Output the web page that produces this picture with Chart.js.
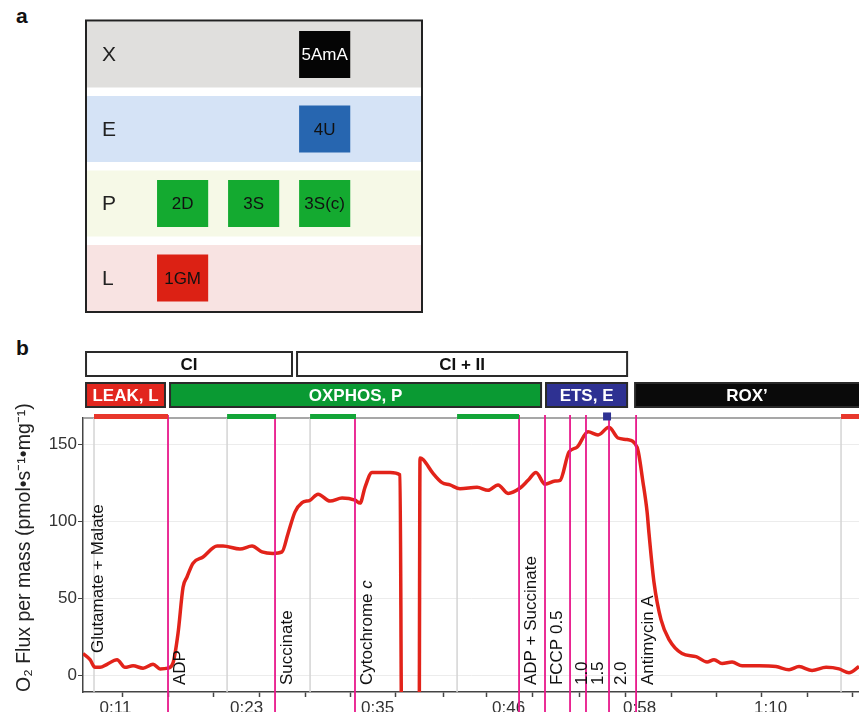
<!DOCTYPE html>
<html>
<head>
<meta charset="utf-8">
<script src="https://cdn.jsdelivr.net/npm/chart.js@4.4.1/dist/chart.umd.min.js"></script>
<style>
  html, body { margin: 0; padding: 0; background: #fff; overflow: hidden; width: 859px; height: 712px; position: relative; font-family: "Liberation Sans", Arial, sans-serif; }
  .panel { position: absolute; }
  .tag { position: absolute; font-weight: bold; font-size: 21px; color: #111; line-height: 24px; }
</style>
</head>
<body>
<div class="tag" style="left:16px;top:4px">a</div>
<div class="tag" style="left:16px;top:336px">b</div>
<div class="panel" style="left:0;top:0;width:430px;height:330px"><canvas id="protocol"></canvas></div>
<div class="panel" style="left:0;top:340px;width:859px;height:377px"><canvas id="trace"></canvas></div>

<script>
// ---- panel a : protocol grid ----
const rows = ["X", "E", "P", "L"];
const rowColors = ["#e0dfdd", "#d5e3f6", "#f6f9e7", "#f8e3e2"];
const stepLabels = ["1GM", "2D", "3S", "3S(c)", "4U", "5AmA"];
const stepRows = ["L", "P", "P", "P", "E", "X"];
const stepCols = [1, 1, 2, 3, 3, 3];
const stepColors = ["#dc2114", "#14aa30", "#14aa30", "#14aa30", "#2766b0", "#050505"];
const stepTextColors = ["#111", "#111", "#111", "#111", "#111", "#fff"];

// ---- panel b : O2 flux trace (time in minutes) ----
const traceTime = [8.77, 9.40, 9.84, 10.29, 10.91, 11.80, 12.51, 13.23, 14.12, 15.01, 15.63, 16.34, 16.79, 17.23, 17.68,
  18.03, 18.57, 19.46, 20.71, 21.24, 22.75, 23.82, 24.71, 25.69, 26.49, 27.03, 27.65, 28.28, 28.99, 29.70,
  30.77, 31.84, 32.99, 33.44, 33.88, 34.51, 36.11, 37.00, 37.15, 38.70, 38.78, 39.05, 39.94, 40.74, 41.45,
  42.34, 43.86, 44.84, 45.73, 46.62, 47.69, 48.40, 49.11, 49.91, 50.80, 51.25, 52.05, 52.76, 53.74, 54.63,
  55.61, 56.41, 57.21, 58.11, 58.64, 59.00, 59.17, 59.62, 60.24, 60.96, 62.11, 63.36, 64.34, 64.96, 65.68,
  66.57, 67.46, 68.97, 70.48, 71.64, 72.53, 73.69, 74.94, 76.09, 76.98, 77.87];
const traceFlux = [14, 10, 5, 5, 7, 10, 5, 6, 4.5, 7, 4, 4.5, 8, 27, 57,
  63.7, 72.7, 76.7, 83.8, 83.8, 81.9, 83.8, 80, 79, 80, 92, 106, 112, 113.6, 117.5,
  113, 115, 113.6, 111.7, 122, 131.6, 131.6, 130, -40, -40, 141, 140, 131, 125, 123.5,
  121, 122, 120, 123.5, 118, 121.5, 126.5, 131.6, 124, 126, 126.5, 145, 148, 158, 156,
  161, 154, 153, 148, 125, 106, 92, 60, 36, 23, 14, 12, 8.5, 10, 7.5,
  8.5, 6, 6, 5.5, 3.5, 5.5, 3, 5, 4, 1.5, 5.5];

const yTicks = [0, 50, 100, 150];
const timeTicks = [11.667, 23.333, 35, 46.667, 58.333, 70];
const timeLabels = ["0:11", "0:23", "0:35", "0:46", "0:58", "1:10"];
const minorTicks = [12.25, 16.34, 20.35, 24.45, 28.54, 32.55, 36.64, 40.83, 44.66, 48.76, 52.94, 57.04, 61.13, 65.14, 69.15, 73.24, 77.25];

// injections (first one sits on the y axis, no line drawn for it)
const eventNames = ["Glutamate + Malate", "ADP", "Succinate", "Cytochrome c", "ADP + Succinate", "FCCP 0.5", "1.0", "1.5", "2.0", "Antimycin A"];
const eventTimes = [9.1, 16.34, 25.87, 32.99, 47.60, 49.91, 52.14, 53.56, 55.61, 58.02];
const eventLabelStart = [14.3, -6.5, -6.5, -6.5, -6.5, -6.5, -6.5, -6.5, -6.5, -6.5];

// marks along the top of the plot
const markStart = [9.75, 21.60, 28.99, 42.08, 55.08, 76.27];
const markEnd = [16.34, 25.96, 33.08, 47.60, 55.79, 80];
const markColors = ["#e8372c", "#13a538", "#13a538", "#13a538", "#2e3192", "#e8372c"];
const markWidths = [5, 5, 5, 5, 8, 5];

// header boxes
const pathwayNames = ["CI", "CI + II"];
const pathwayStart = [9.04, 27.83];
const pathwayEnd = [27.38, 57.22];
const stateNames = ["LEAK, L", "OXPHOS, P", "ETS, E", "ROX\u2019"];
const stateStart = [9.04, 16.52, 50.0, 57.93];
const stateEnd = [16.07, 49.56, 57.22, 80];
const stateColors = ["#e2261e", "#0a9a33", "#2e3192", "#0a0a0a"];

const xMin = 8.77;
const xMax = 77.87;
const yMin = -11;
const yMax = 167;

Chart.defaults.font.family = '"Liberation Sans", Arial, sans-serif';
Chart.defaults.color = "#333";

// frame, row letters and box captions for panel a
const protocolPlugin = {
  id: "protocolText",
  afterDatasetsDraw(chart) {
    const { ctx, chartArea } = chart;
    const yScale = chart.scales.y;
    const bands = chart.getDatasetMeta(0).data;
    const top = bands[0].y - bands[0].height / 2 - 1;
    const bottom = bands[bands.length - 1].y + bands[bands.length - 1].height / 2 + 1;
    ctx.save();
    ctx.strokeStyle = "#222";
    ctx.lineWidth = 2;
    ctx.strokeRect(chartArea.left, top, chartArea.right - chartArea.left, bottom - top);

    ctx.textBaseline = "middle";
    ctx.font = '21px "Liberation Sans", Arial, sans-serif';
    ctx.fillStyle = "#222";
    ctx.textAlign = "left";
    rows.forEach((r, i) => {
      ctx.fillText(r, chartArea.left + 16, yScale.getPixelForValue(i) + 1);
    });

    ctx.font = '17px "Liberation Sans", Arial, sans-serif';
    ctx.textAlign = "center";
    chart.getDatasetMeta(1).data.forEach((bar, i) => {
      const cx = (bar.x + bar.base) / 2;
      ctx.fillStyle = stepTextColors[i];
      ctx.fillText(stepLabels[i], cx, bar.y + 1);
    });
    ctx.restore();
  },
};

new Chart(document.getElementById("protocol"), {
  type: "bar",
  data: {
    labels: rows,
    datasets: [
      {
        data: rows.map(() => [-0.36, 4.37]),
        backgroundColor: rowColors,
        barPercentage: 0.886,
        categoryPercentage: 1,
        grouped: false,
        order: 2,
      },
      {
        data: stepLabels.map((s, i) => ({ x: [stepCols[i] - 0.36, stepCols[i] + 0.36], y: stepRows[i] })),
        backgroundColor: stepColors,
        barPercentage: 0.63,
        categoryPercentage: 1,
        grouped: false,
        order: 1,
      },
    ],
  },
  options: {
    indexAxis: "y",
    responsive: true,
    maintainAspectRatio: false,
    animation: false,
    events: [],
    layout: { padding: { left: 86, right: 8, top: 17.25, bottom: 14.75 } },
    plugins: { legend: { display: false }, tooltip: { enabled: false } },
    scales: {
      x: { type: "linear", min: -0.36, max: 4.37, display: false },
      y: {
        afterFit: (scale) => { scale.width = 0; },
        grid: { display: false },
        border: { display: false },
        ticks: { display: false },
      },
    },
  },
  plugins: [protocolPlugin],
});

// header boxes, top frame line and injection labels for panel b
const tracePlugin = {
  id: "traceDecor",
  beforeDatasetsDraw(chart) {
    const { ctx, chartArea } = chart;
    ctx.save();
    ctx.strokeStyle = "#8a8a8a";
    ctx.lineWidth = 1.5;
    ctx.beginPath();
    ctx.moveTo(chartArea.left, chartArea.top);
    ctx.lineTo(chartArea.right, chartArea.top);
    ctx.stroke();
    ctx.restore();
  },
  afterDatasetsDraw(chart) {
    const { ctx, chartArea } = chart;
    const x = chart.scales.x;
    const y = chart.scales.y;
    ctx.save();
    ctx.font = 'bold 17px "Liberation Sans", Arial, sans-serif';
    ctx.textAlign = "center";
    ctx.textBaseline = "middle";
    ctx.lineWidth = 2;
    ctx.strokeStyle = "#2a2a2a";

    pathwayNames.forEach((name, i) => {
      const x0 = x.getPixelForValue(pathwayStart[i]);
      const x1 = x.getPixelForValue(pathwayEnd[i]);
      ctx.fillStyle = "#fff";
      ctx.fillRect(x0, 12, x1 - x0, 24);
      ctx.strokeRect(x0, 12, x1 - x0, 24);
      ctx.fillStyle = "#111";
      ctx.fillText(name, (x0 + x1) / 2, 25);
    });

    stateNames.forEach((name, i) => {
      const x0 = x.getPixelForValue(stateStart[i]);
      const x1 = x.getPixelForValue(stateEnd[i]);
      ctx.fillStyle = stateColors[i];
      ctx.fillRect(x0, 43, x1 - x0, 24);
      ctx.strokeRect(x0, 43, x1 - x0, 24);
      ctx.fillStyle = "#fff";
      const cx = (x0 + Math.min(x1, chartArea.right)) / 2;
      ctx.fillText(name, cx, 56);
    });

    // rotated injection labels
    ctx.font = '17px "Liberation Sans", Arial, sans-serif';
    ctx.fillStyle = "#111";
    ctx.textAlign = "left";
    eventNames.forEach((name, i) => {
      const px = x.getPixelForValue(eventTimes[i]) + 12;
      const py = y.getPixelForValue(eventLabelStart[i]);
      ctx.save();
      ctx.translate(px, py);
      ctx.rotate(-Math.PI / 2);
      if (name.endsWith(" c")) {
        const head = name.slice(0, -1);
        ctx.fillText(head, 0, 0);
        const w = ctx.measureText(head).width;
        ctx.font = 'italic 17px "Liberation Sans", Arial, sans-serif';
        ctx.fillText("c", w, 0);
      } else {
        ctx.fillText(name, 0, 0);
      }
      ctx.restore();
    });
    ctx.restore();
  },
};

// vertical segments joined into one dataset, separated by gaps
function verticalLines(times, y0, y1) {
  const pts = [];
  times.forEach((t) => {
    pts.push({ x: t, y: y0 }, { x: t, y: y1 }, { x: t, y: null });
  });
  return pts;
}

const markSets = markStart.map((s, i) => ({
  data: [{ x: s, y: 168 }, { x: markEnd[i], y: 168 }],
  borderColor: markColors[i],
  borderWidth: markWidths[i],
  borderCapStyle: "butt",
  pointRadius: 0,
  clip: { left: 0, top: false, right: false, bottom: 0 },
  order: 0,
}));

new Chart(document.getElementById("trace"), {
  type: "line",
  data: {
    datasets: [
      {
        // grey lines where marks start
        data: verticalLines(markStart.slice(0, 4).concat(markStart.slice(5)), yMin, yMax),
        borderColor: "#d4d4d4",
        borderWidth: 1.5,
        pointRadius: 0,
        spanGaps: false,
        order: 3,
      },
      {
        data: traceTime.map((t, i) => ({ x: t, y: traceFlux[i] })),
        borderColor: "#e2231a",
        borderWidth: 3.5,
        pointRadius: 0,
        cubicInterpolationMode: "monotone",
        order: 2,
      },
      {
        // injection lines run down through the time labels
        data: verticalLines(eventTimes.slice(1), yMax + 2, -26),
        borderColor: "#e8198b",
        borderWidth: 1.8,
        pointRadius: 0,
        spanGaps: false,
        clip: { left: 0, top: 3, right: 0, bottom: false },
        order: 1,
      },
      ...markSets,
    ],
  },
  options: {
    responsive: true,
    maintainAspectRatio: false,
    animation: false,
    events: [],
    layout: { padding: { left: 0, right: 0, top: 78, bottom: 0 } },
    plugins: { legend: { display: false }, tooltip: { enabled: false } },
    scales: {
      x: {
        type: "linear",
        min: xMin,
        max: xMax,
        weight: 0,
        afterBuildTicks: (scale) => { scale.ticks = minorTicks.map((v) => ({ value: v })); },
        afterFit: (scale) => { scale.height = 5; },
        ticks: { display: false },
        grid: { drawOnChartArea: false, tickLength: 5, tickColor: "#444", tickWidth: 1.5 },
        border: { color: "#444", width: 1.5 },
      },
      xl: {
        type: "linear",
        position: "bottom",
        min: xMin,
        max: xMax,
        weight: 1,
        afterBuildTicks: (scale) => { scale.ticks = timeTicks.map((v) => ({ value: v })); },
        afterFit: (scale) => { scale.height = 20; },
        ticks: {
          callback: (v, i) => timeLabels[i],
          autoSkip: false,
          maxRotation: 0,
          padding: -7,
          color: "#333",
          font: { size: 17 },
        },
        grid: { display: false },
        border: { display: false },
      },
      y: {
        min: yMin,
        max: yMax,
        afterBuildTicks: (scale) => { scale.ticks = yTicks.map((v) => ({ value: v })); },
        afterFit: (scale) => { scale.width = 83; },
        ticks: { padding: 1, color: "#333", font: { size: 17 } },
        grid: { color: "#ececec", tickColor: "#444", tickLength: 5, lineWidth: 1 },
        border: { color: "#444", width: 1.5 },
        title: {
          display: true,
          text: "O\u2082 Flux per mass (pmol\u2022s\u207B\u00B9\u2022mg\u207B\u00B9)",
          color: "#222",
          align: "start",
          font: { size: 19.5 },
          padding: { top: 13, bottom: 0 },
        },
      },
    },
  },
  plugins: [tracePlugin],
});
</script>
</body>
</html>
